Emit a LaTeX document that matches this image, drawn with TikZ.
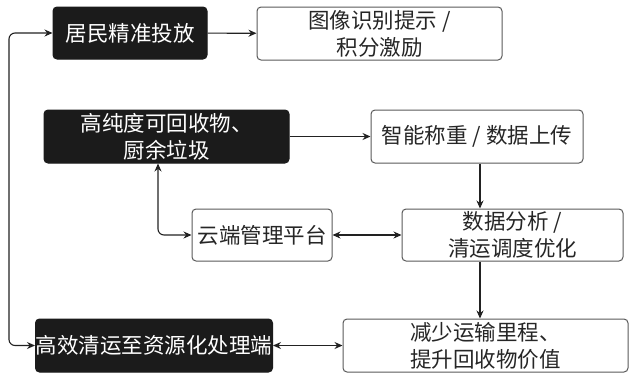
\documentclass[tikz,border=0pt]{standalone}
\usepackage{fontspec}
\setmainfont{Noto Sans CJK SC}
\usetikzlibrary{arrows.meta}
\definecolor{boxdark}{HTML}{1B1B1B}
\definecolor{edge}{HTML}{5A5A5A}
\definecolor{conn}{HTML}{222222}
\begin{document}
\begin{tikzpicture}[x=1pt,y=-1pt,
  base/.style={rounded corners=4pt,line width=1pt,align=center,inner sep=0pt,
    font=\fontsize{21.5}{27}\selectfont},
  darkbox/.style={base,draw=boxdark,fill=boxdark,text=white},
  lightbox/.style={base,draw=edge,fill=white,text=black!85},
  arr/.style={line width=1.1pt,draw=conn,-{Stealth[length=8pt,width=7pt]}},
  darr/.style={line width=1.1pt,draw=conn,{Stealth[length=8pt,width=7pt]}-{Stealth[length=8pt,width=7pt]}}]
\path[use as bounding box,fill=white] (0,0) rectangle (631,376);
\node[darkbox,minimum width=154pt,minimum height=52pt] (b1) at (130,33) {居民精准投放};
\node[lightbox,minimum width=245pt,minimum height=53pt] (b2) at (379.5,33.5) {图像识别提示 /\\积分激励};
\node[darkbox,minimum width=245pt,minimum height=53pt] (b3) at (166.5,136.5) {高纯度可回收物、\\厨余垃圾};
\node[lightbox,minimum width=212pt,minimum height=53pt] (b4) at (477,136.5) {智能称重 / 数据上传};
\node[lightbox,minimum width=140pt,minimum height=52pt] (b6) at (262,235) {云端管理平台};
\node[lightbox,minimum width=221pt,minimum height=52pt] (b5) at (512.5,235) {数据分析 /\\清运调度优化};
\node[darkbox,minimum width=237pt,minimum height=53pt] (b7) at (154,345.5) {高效清运至资源化处理端};
\node[lightbox,minimum width=285pt,minimum height=53pt] (b8) at (485.5,345.5) {减少运输里程、\\提升回收物价值};
\coordinate (L) at (9,0);
\coordinate (V) at (480,0);
\draw[arr] (b1) -- (b2);
\draw[arr] (b3) -- (b4);
\draw[arr] (b4.south -| V) -- (b5.north -| V);
\draw[arr] (b5.south -| V) -- (b8.north -| V);
\draw[darr] (b6) -- (b5);
\draw[darr] (b7) -- (b8);
\draw[darr,rounded corners=6pt] (b1.west) -- (b1.west -| L) -- (b7.west -| L) -- (b7.west);
\draw[darr,rounded corners=6pt] ([xshift=-8.5pt]b3.south) -- ([xshift=-8.5pt]b3.south |- b6.west) -- (b6.west);
\end{tikzpicture}
\end{document}
